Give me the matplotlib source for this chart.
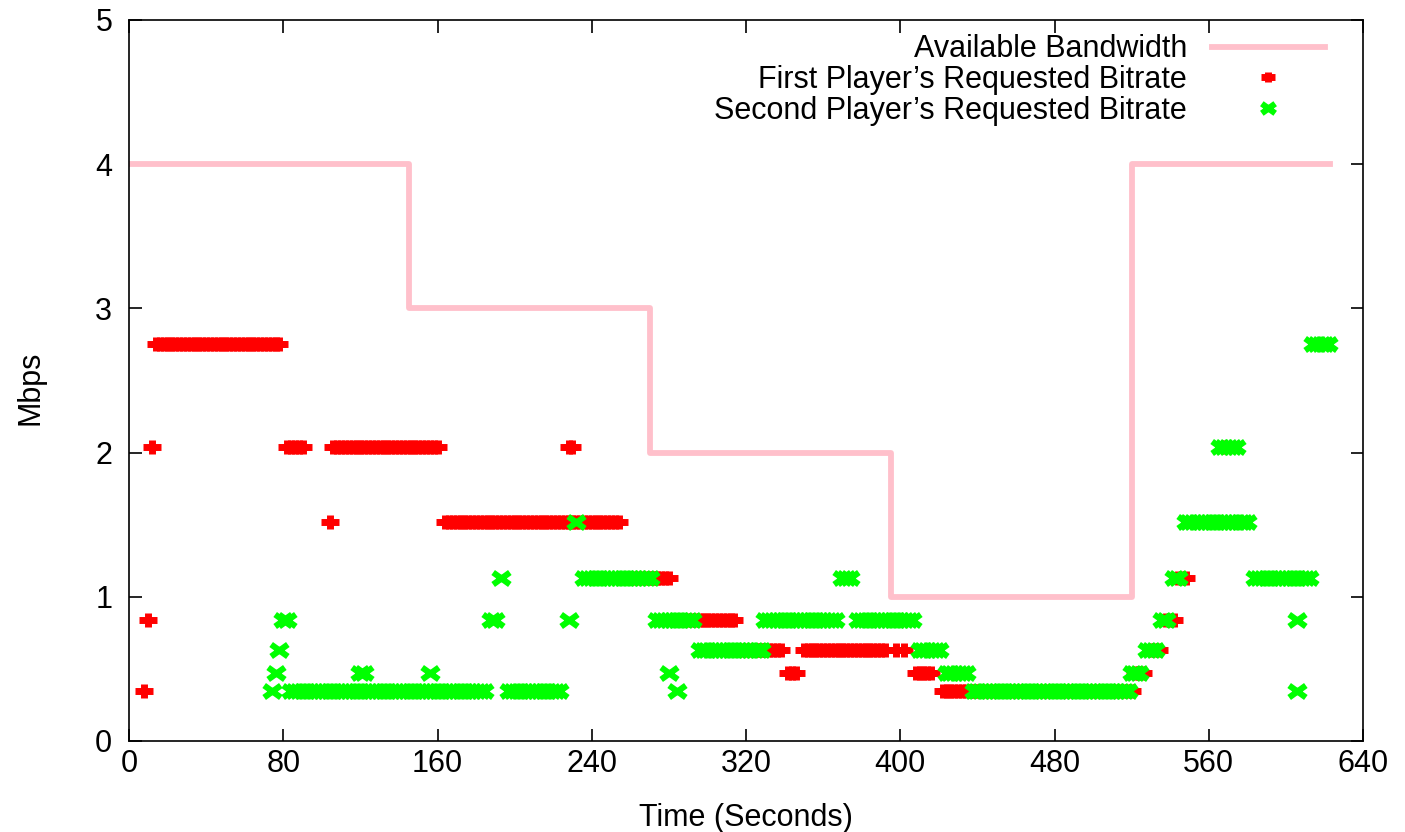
import numpy as np
import matplotlib
matplotlib.use('Agg')
import matplotlib.pyplot as plt
from matplotlib.path import Path

# available bandwidth (step changes, Mbps)
bw_time = [0, 145, 270, 395, 520, 623]
bw_rate = [4, 3, 2, 1, 4, 4]

# requested bitrate runs: start (s), end (s), bitrate (Mbps)
# one request every 2 seconds inside a run
p1_start = [8, 10, 12, 14, 82, 104, 106, 164, 228, 260, 284, 316, 342, 350, 398, 402, 408, 422, 522, 530, 538, 544, 568, 574]
p1_end   = [8, 10, 12, 78, 90, 104, 160, 254, 230, 280, 314, 338, 346, 392, 398, 402, 416, 520, 526, 534, 542, 548, 568, 574]
p1_rate  = [0.35, 0.84, 2.04, 2.75, 2.04, 1.52, 2.04, 1.52, 2.04, 1.13, 0.84, 0.63, 0.47, 0.63, 0.63, 0.63, 0.47, 0.35, 0.47, 0.63, 0.84, 1.13, 2.04, 1.52]

p2_start = [74, 76, 78, 80, 84, 120, 156, 188, 193, 197, 228, 232, 236, 274, 280, 284, 296, 330, 370, 378, 410, 424, 438, 520, 528, 536, 542, 548, 566, 584, 606, 606, 614]
p2_end   = [74, 76, 78, 82, 184, 122, 156, 190, 193, 223, 228, 232, 270, 292, 280, 284, 328, 366, 374, 406, 420, 434, 518, 524, 532, 538, 544, 580, 574, 612, 606, 606, 622]
p2_rate  = [0.35, 0.47, 0.63, 0.84, 0.35, 0.47, 0.47, 0.84, 1.13, 0.35, 0.84, 1.52, 1.13, 0.84, 0.47, 0.35, 0.63, 0.84, 1.13, 0.84, 0.63, 0.47, 0.35, 0.47, 0.63, 0.84, 1.13, 1.52, 2.04, 1.13, 0.84, 0.35, 2.75]

def expand(starts, ends, rates):
    t, r = [], []
    for s, e, v in zip(starts, ends, rates):
        pts = np.arange(s, e + 1, 2)
        t.extend(pts)
        r.extend([v] * len(pts))
    return np.array(t), np.array(r)

p1_t, p1_r = expand(p1_start, p1_end, p1_rate)
p2_t, p2_r = expand(p2_start, p2_end, p2_rate)

# gnuplot-like point types (a bit wider than tall)
plus_mark = Path([(-1, 0), (1, 0), (0, -0.75), (0, 0.75)],
                 [Path.MOVETO, Path.LINETO, Path.MOVETO, Path.LINETO])
cross_mark = Path([(-1, -0.72), (1, 0.72), (-1, 0.72), (1, -0.72)],
                  [Path.MOVETO, Path.LINETO, Path.MOVETO, Path.LINETO])

plt.rcParams['font.family'] = ['Liberation Sans', 'DejaVu Sans']

fig = plt.figure(figsize=(14.05, 8.32), dpi=100)
ax = fig.add_axes([129 / 1405, 1 - 741 / 832, (1363 - 129) / 1405, (741 - 20) / 832])

ax.step(bw_time, bw_rate, where='post', color='#ffc0cb', lw=4.2, label='Available Bandwidth', zorder=2)
ax.plot(p1_t, p1_r, ls='none', marker=plus_mark, ms=13, mew=5, mec='#ff0000', mfc='none',
        label='First Player\u2019s Requested Bitrate', zorder=3)
ax.plot(p2_t, p2_r, ls='none', marker=cross_mark, ms=12, mew=4.4, mec='#00ff00', mfc='none',
        label='Second Player\u2019s Requested Bitrate', zorder=4)

ax.set_xlim(0, 640)
ax.set_ylim(0, 5)
ax.set_xticks(np.arange(0, 641, 80))
ax.set_yticks(np.arange(0, 6, 1))
ax.tick_params(direction='in', top=True, right=True, length=9, width=1.2, labelsize=22, color='black')
ax.tick_params(axis='x', pad=6)
ax.tick_params(axis='y', pad=12)
for s in ax.spines.values():
    s.set_linewidth(1.2)

ax.set_xlabel('Time (Seconds)', fontsize=22)
ax.set_ylabel('Mbps', fontsize=22)
ax.xaxis.set_label_coords(0.5, -0.086)
ax.yaxis.set_label_coords(-0.068, 0.49)

ax.legend(loc='upper right', bbox_to_anchor=(0.969, 0.98), frameon=False, markerfirst=False,
          fontsize=22, borderpad=0, borderaxespad=0, handlelength=3.7, handletextpad=0.8,
          labelspacing=0.02, markerscale=0.8)

fig.savefig('out.png', dpi=100)
